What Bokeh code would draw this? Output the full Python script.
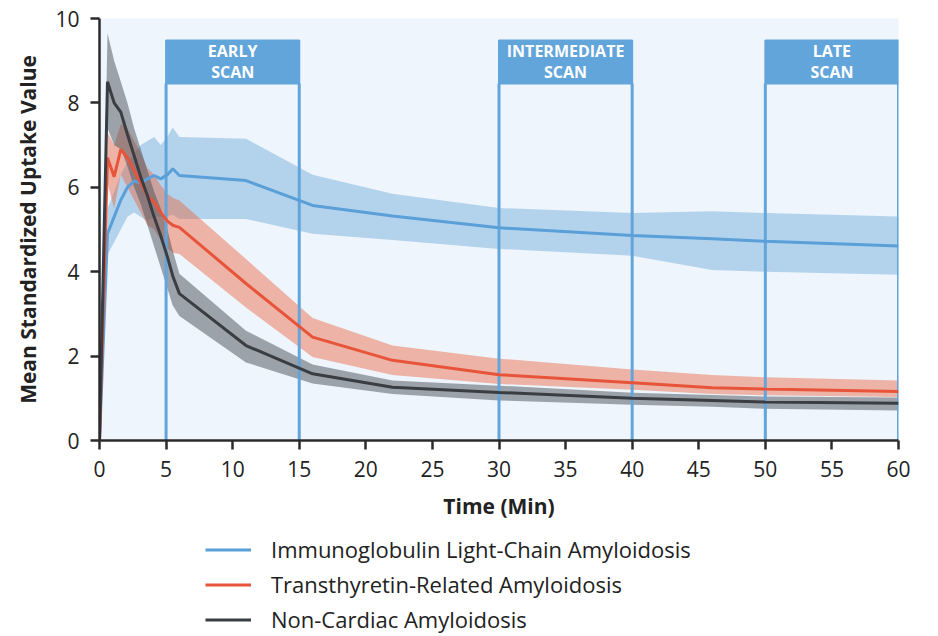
from bokeh.plotting import figure
from bokeh.models import Legend, LegendItem, FixedTicker, Range1d
from bokeh.layouts import column
from bokeh.embed import file_html
from bokeh.resources import INLINE
from bokeh.core.properties import value

# ---- data ----
time_min = [0, 0.6, 1.1, 1.6, 2.1, 2.6, 3.1, 3.6, 4.1, 4.6, 5.1, 5.5, 6, 11, 16, 22, 30, 40, 46, 50, 60]

al_mean  = [0, 4.9, 5.3, 5.7, 6.0, 6.15, 6.1, 6.2, 6.28, 6.2, 6.3, 6.44, 6.28, 6.16, 5.57, 5.32, 5.04, 4.86, 4.78, 4.72, 4.61]
al_upper = [0, 5.5, 5.9, 6.3, 6.6, 6.8, 7.0, 7.1, 7.19, 7.0, 7.2, 7.42, 7.19, 7.15, 6.3, 5.85, 5.51, 5.39, 5.43, 5.39, 5.31]
al_lower = [0, 4.4, 4.7, 5.0, 5.3, 5.4, 5.3, 5.2, 5.3, 5.3, 5.3, 5.35, 5.25, 5.25, 4.9, 4.75, 4.54, 4.38, 4.04, 4.0, 3.93]

attr_mean  = [0, 6.7, 6.25, 6.9, 6.7, 6.4, 6.1, 5.8, 5.65, 5.4, 5.2, 5.1, 5.05, 3.72, 2.45, 1.9, 1.56, 1.37, 1.25, 1.22, 1.16]
attr_upper = [0, 7.3, 7.0, 7.5, 7.4, 7.1, 6.8, 6.45, 6.3, 6.05, 5.85, 5.75, 5.69, 4.3, 2.9, 2.25, 1.94, 1.68, 1.55, 1.5, 1.42]
attr_lower = [0, 6.1, 5.5, 6.3, 6.0, 5.7, 5.4, 5.1, 5.0, 4.75, 4.55, 4.45, 4.42, 3.15, 1.98, 1.55, 1.34, 1.2, 1.1, 1.07, 1.03]

nc_mean  = [0, 8.5, 8.0, 7.78, 7.25, 6.75, 6.24, 5.8, 5.3, 4.85, 4.35, 3.9, 3.48, 2.25, 1.58, 1.26, 1.14, 1.0, 0.95, 0.91, 0.88]
nc_upper = [0, 9.65, 9.0, 8.5, 8.0, 7.4, 6.9, 6.4, 5.9, 5.5, 5.0, 4.5, 3.95, 2.6, 1.8, 1.42, 1.3, 1.13, 1.08, 1.04, 1.02]
nc_lower = [0, 7.4, 7.0, 6.9, 6.5, 6.0, 5.6, 5.1, 4.6, 4.1, 3.6, 3.2, 2.95, 1.85, 1.35, 1.1, 0.95, 0.85, 0.8, 0.75, 0.71]

series_names = ["Immunoglobulin Light-Chain Amyloidosis",
                "Transthyretin-Related Amyloidosis",
                "Non-Cardiac Amyloidosis"]

scan_starts = [5, 30, 50]
scan_ends = [15, 40, 60]
scan_line1 = ["EARLY", "INTERMEDIATE", "LATE"]
scan_line2 = ["SCAN", "SCAN", "SCAN"]

x_ticks = list(range(0, 61, 5))
y_ticks = [0, 2, 4, 6, 8, 10]

# ---- styling ----
FONT = "Open Sans"
BLUE = "#5b9fd8"
RED = "#e8543a"
DARK = "#3a3d42"
colors = [BLUE, RED, DARK]

p = figure(width=938, height=530, output_backend="svg", toolbar_location=None,
           x_range=Range1d(0, 60), y_range=Range1d(0, 10))
p.min_border_left = 99
p.min_border_right = 40
p.min_border_top = 18
p.min_border_bottom = 90
p.outline_line_color = None
p.background_fill_color = "#eef5fc"
p.border_fill_color = "white"
p.grid.grid_line_color = None

# bands
p.varea(x=time_min, y1=al_lower, y2=al_upper, fill_color=BLUE, fill_alpha=0.4)
p.varea(x=time_min, y1=attr_lower, y2=attr_upper, fill_color="#e8643f", fill_alpha=0.45)
p.varea(x=time_min, y1=nc_lower, y2=nc_upper, fill_color="#4a5058", fill_alpha=0.5)

# scan windows: vertical lines + header boxes
box_top = 9.48
box_bottom = 8.46
for s, e in zip(scan_starts, scan_ends):
    p.segment(x0=[s, e], y0=[0, 0], x1=[s, e], y1=[box_bottom, box_bottom],
              line_color="#62a5db", line_width=3)
p.quad(left=scan_starts, right=scan_ends, top=[box_top] * 3, bottom=[box_bottom] * 3,
       fill_color="#62a5db", line_color="#62a5db", line_width=2)
mids = [(s + e) / 2 for s, e in zip(scan_starts, scan_ends)]
p.text(x=mids, y=[9.24] * 3, text=scan_line1, text_align="center", text_baseline="middle",
       text_color="white", text_font=value(FONT), text_font_style="bold", text_font_size="16px")
p.text(x=mids, y=[8.74] * 3, text=scan_line2, text_align="center", text_baseline="middle",
       text_color="white", text_font=value(FONT), text_font_style="bold", text_font_size="16px")

# mean lines
p.line(time_min, al_mean, line_color=BLUE, line_width=3)
p.line(time_min, attr_mean, line_color=RED, line_width=3)
p.line(time_min, nc_mean, line_color=DARK, line_width=3)

# axes
for ax in (p.xaxis[0], p.yaxis[0]):
    ax.axis_line_color = "#2b2b2b"
    ax.axis_line_width = 2.5
    ax.major_tick_line_color = "#2b2b2b"
    ax.major_tick_line_width = 2.5
    ax.major_tick_out = 9
    ax.major_tick_in = 0
    ax.minor_tick_line_color = None
    ax.major_label_text_font = FONT
    ax.major_label_text_font_size = "21px"
    ax.major_label_text_color = "#222222"
    ax.axis_label_text_font = FONT
    ax.axis_label_text_font_style = "bold"
    ax.axis_label_text_color = "#222222"

p.xaxis.ticker = FixedTicker(ticks=x_ticks)
p.yaxis.ticker = FixedTicker(ticks=y_ticks)
p.xaxis.axis_label = "Time (Min)"
p.yaxis.axis_label = "Mean Standardized Uptake Value"
p.xaxis.axis_label_text_font_size = "21px"
p.yaxis.axis_label_text_font_size = "21px"
p.xaxis.major_label_standoff = 11
p.yaxis.major_label_standoff = 11
p.xaxis.axis_label_standoff = 12
p.yaxis.axis_label_standoff = 10

# ---- legend in its own strip below (frames are aligned by the column) ----
lg = figure(width=938, height=106, output_backend="svg", toolbar_location=None,
            x_axis_type=None, y_axis_type=None,
            x_range=Range1d(0, 1), y_range=Range1d(0, 1))
lg.min_border_left = 99
lg.min_border_right = 40
lg.min_border_top = 0
lg.min_border_bottom = 0
lg.outline_line_color = None
lg.grid.grid_line_color = None
lg.background_fill_color = "white"
# off-screen stand-ins so that the legend can draw its line swatches
dummy = [lg.line(x=[-2, -1], y=[-2, -1], line_color=c, line_width=3) for c in colors]
legend = Legend(items=[LegendItem(label=n, renderers=[r]) for n, r in zip(series_names, dummy)],
                location=(106, 2), orientation="vertical",
                background_fill_alpha=0, border_line_color=None,
                padding=0, margin=0, spacing=5, glyph_width=46, glyph_height=21,
                label_height=21, label_standoff=20,
                label_text_font=FONT, label_text_font_size="22px",
                label_text_color="#222222")
lg.add_layout(legend, "center")

layout = column(p, lg, spacing=0)
open("out.html", "w").write(file_html(layout, INLINE))
